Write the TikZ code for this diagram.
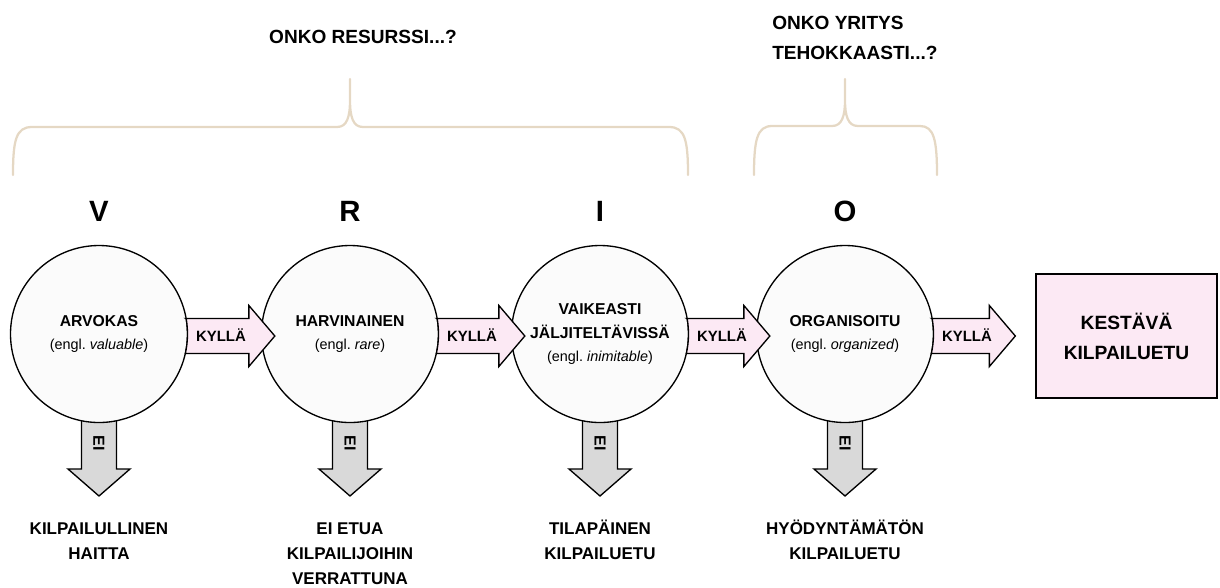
\documentclass[tikz,border=0pt]{standalone}
\usepackage{fontspec}
\setmainfont{Liberation Sans}
\usetikzlibrary{calc}
\pgfdeclarelayer{behind}
\pgfsetlayers{behind,main}

\definecolor{bracecol}{RGB}{229,216,196}
\definecolor{yesfill}{RGB}{252,233,244}
\definecolor{nofill}{RGB}{217,217,217}
\definecolor{circfill}{RGB}{251,251,251}

\tikzset{
  stage/.style={circle, draw=black, line width=1pt, fill=circfill,
    minimum size=132.75pt, inner sep=0pt, align=center,
    font=\fontsize{11.8}{17.5}\selectfont\bfseries},
  letter/.style={font=\fontsize{22}{26}\selectfont\bfseries, inner sep=0pt},
  question/.style={font=\fontsize{14.3}{22.5}\selectfont\bfseries, align=left, inner sep=0pt},
  outcome/.style={font=\fontsize{12.75}{18.75}\selectfont\bfseries, align=center,
    anchor=north, inner sep=0pt},
  goal/.style={draw=black, line width=1pt, fill=yesfill, minimum width=135.75pt,
    minimum height=93pt, inner sep=0pt, align=center,
    font=\fontsize{14.4}{22.5}\selectfont\bfseries},
  yesarrow/.style={draw=black, line width=1pt, fill=yesfill, line join=miter},
  noarrow/.style={draw=black, line width=1pt, fill=nofill, line join=miter},
  yeslabel/.style={font=\fontsize{11.2}{13}\selectfont\bfseries, inner sep=0pt,
    text height=8pt, text depth=0pt},
  nolabel/.style={font=\fontsize{12}{13}\selectfont\bfseries, inner sep=0pt, rotate=-90},
  brace/.style={draw=bracecol, line width=1.7pt, line cap=round}
}

% English gloss under a stage name
\newcommand\engl[1]{{\fontsize{10.8}{17.5}\selectfont\mdseries (engl.~\textit{#1})}}

% "KYLLÄ" block arrow: #1 source stage, #2 target, #3 tip offset from target's west side (px).
% The shaft starts on the source circle's outline (radius 66.375pt).
\newcommand\yesstep[3]{%
  \path[yesarrow] let \p1=(#1.center), \p2=($(#2.west)+(#3,0)$) in
    (\x1+65.35pt,\y1+11.6pt) -- (\x2-19.5pt,\y1+11.6pt) -- (\x2-19.5pt,\y1+21.4pt)
    -- (\x2,\y1-1.5pt) -- (\x2-19.5pt,\y1-24.4pt) -- (\x2-19.5pt,\y1-14.6pt)
    -- (\x1+64.75pt,\y1-14.6pt)
    arc[start angle=-12.707, end angle=10.065, radius=66.375pt] -- cycle;
  \node[yeslabel] (#1-yes) at ($(#1.center)+(122,2)$) {KYLLÄ};
}

% "EI" block arrow: #1 source stage, #2 outcome label below it
\newcommand\nostep[2]{%
  \path[noarrow] ($(#1.center)+(-17.5,60)$) -- ($(#1.center)+(-17.5,135)$)
    -- ($(#1.center)+(-31,135)$) -- ($(#2.north)+(0,-20.5)$)
    -- ($(#1.center)+(31,135)$) -- ($(#1.center)+(17.5,135)$)
    -- ($(#1.center)+(17.5,60)$) -- cycle;
  \node[nolabel] (#1-no) at ($(#1.center)+(0,109)$) {EI};
}

\begin{document}
\begin{tikzpicture}[x=0.75pt,y=-0.75pt]
\useasboundingbox (0,0) rectangle (1220,587);

% questions
\node[question] (q-res) at (363,37) {ONKO RESURSSI...?};
\node[question, anchor=west] (q-org) at (772,38) {ONKO YRITYS\\TEHOKKAASTI...?};

% braces
\draw[brace] (13,175) .. controls (13,140) and (16,127) .. (32,127) -- (337,127)
  .. controls (347,127) and (350,117) .. (350,100) -- (350,79)
  (350,100) .. controls (350,117) and (353,127) .. (363,127) -- (669,127)
  .. controls (685,127) and (688,140) .. (688,175);
\draw[brace] (754,175) .. controls (754,140) and (757,126) .. (772,126) -- (832,126)
  .. controls (842,126) and (845,116) .. (845,100) -- (845,79)
  (845,100) .. controls (845,116) and (848,126) .. (858,126) -- (920,126)
  .. controls (934,126) and (937,140) .. (937,175);

% VRIO letters
\node[letter] (l-v) at (99,211) {V};
\node[letter] (l-r) at (350,211) {R};
\node[letter] (l-i) at (600,211) {I};
\node[letter] (l-o) at (845,211) {O};

% stages
\node[stage] (v) at (99,334) {ARVOKAS\\\engl{valuable}};
\node[stage] (r) at (350,334) {HARVINAINEN\\\engl{rare}};
\node[stage] (i) at (600,334) {VAIKEASTI\\JÄLJITELTÄVISSÄ\\\engl{inimitable}};
\node[stage] (o) at (845,334) {ORGANISOITU\\\engl{organized}};
\node[goal] (goal) at (1126.5,336) {KESTÄVÄ\\KILPAILUETU};

% "yes" transitions
\yesstep{v}{r}{14}
\yesstep{r}{i}{14}
\yesstep{i}{o}{14}
\yesstep{o}{goal}{-20}

% outcomes
\node[outcome] (v-out) at (99,516.5) {\strut KILPAILULLINEN\\HAITTA};
\node[outcome] (r-out) at (350,516.5) {\strut EI ETUA\\KILPAILIJOIHIN\\VERRATTUNA};
\node[outcome] (i-out) at (600,516.5) {\strut TILAPÄINEN\\KILPAILUETU};
\node[outcome] (o-out) at (845,516.5) {\strut HYÖDYNTÄMÄTÖN\\KILPAILUETU};

% "no" transitions, behind the circles
\begin{pgfonlayer}{behind}
\nostep{v}{v-out}
\nostep{r}{r-out}
\nostep{i}{i-out}
\nostep{o}{o-out}
\end{pgfonlayer}
\end{tikzpicture}
\end{document}
